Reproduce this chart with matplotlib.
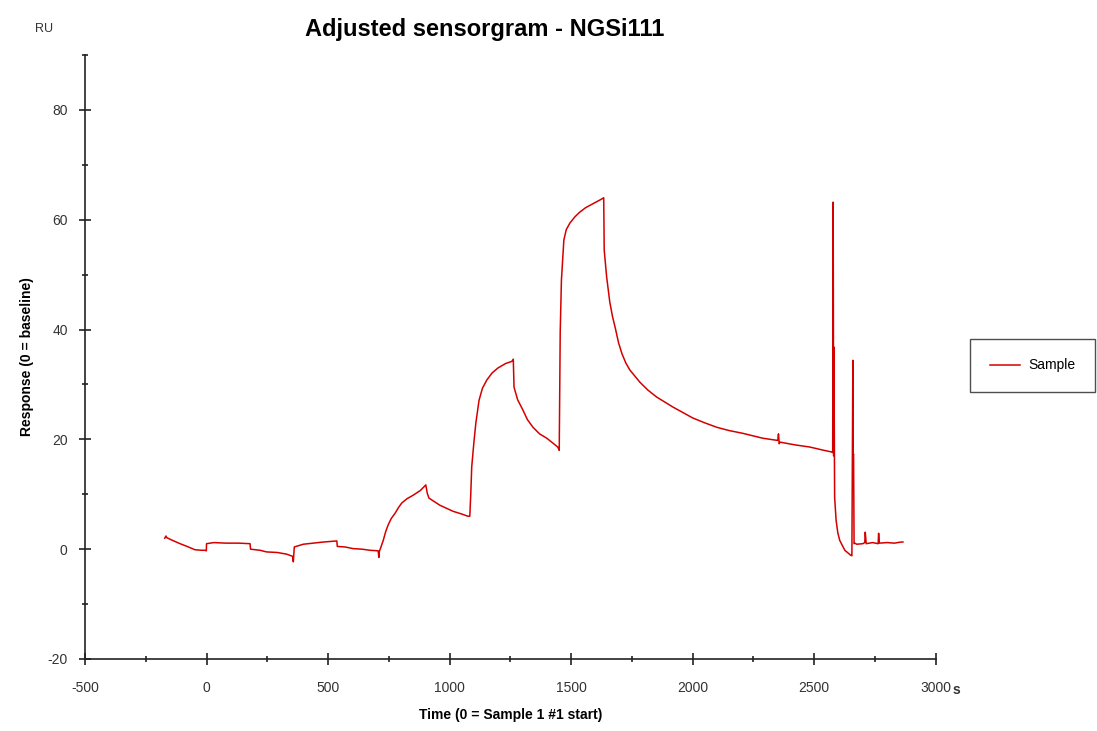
import numpy as np
import matplotlib
matplotlib.use('Agg')
import matplotlib.pyplot as plt
from matplotlib.ticker import MultipleLocator

plt.rcParams['font.family'] = ['Liberation Sans', 'DejaVu Sans']
plt.rcParams['axes.unicode_minus'] = False

# sensorgram trace (time in s, response in RU)
time_s = [
    -172, -167, -164, -140, -109, -80, -48, -20, -7, -1,
    0, 30, 80, 130, 176, 179,
    181, 220, 247, 290, 329, 354, 357, 359,
    361, 398, 440, 480, 532, 536,
    538, 570, 603, 640, 672, 706, 709, 711,
    716, 727, 737, 747, 760, 775, 790, 803, 825, 849, 880, 898, 902,
    908, 915, 960, 1014, 1050, 1075, 1083,
    1087, 1091, 1100, 1108, 1121, 1135, 1153, 1175, 1199, 1230, 1256, 1262,
    1265, 1280, 1302, 1320, 1343, 1370, 1400, 1445, 1451,
    1453, 1455, 1460, 1470, 1480, 1495, 1515, 1536, 1560, 1585, 1627, 1634,
    1636, 1646, 1659, 1670, 1682, 1695, 1709, 1725, 1742, 1783, 1815, 1852, 1918, 2000,
    2050, 2099, 2150, 2206, 2289, 2350, 2353, 2356, 2359, 2420, 2482, 2540, 2572, 2576,
    2577, 2578, 2579, 2580, 2581, 2584, 2590, 2597, 2605, 2626, 2650, 2655,
    2657, 2659, 2660, 2662, 2664, 2667, 2675, 2700, 2708, 2710, 2714,
    2740, 2763, 2765, 2768, 2800, 2830, 2857, 2865,
]
response = [
    2.0, 2.4, 2.1, 1.6, 1.0, 0.5, -0.1, -0.2, -0.2, -0.3,
    1.0, 1.2, 1.1, 1.1, 1.0, 1.0,
    0.0, -0.2, -0.5, -0.6, -0.9, -1.3, -2.3, -1.0,
    0.4, 0.9, 1.1, 1.3, 1.5, 1.5,
    0.5, 0.4, 0.1, 0.0, -0.2, -0.3, -1.5, -0.4,
    0.2, 1.6, 3.2, 4.4, 5.6, 6.5, 7.6, 8.4, 9.2, 9.8, 10.7, 11.5, 11.7,
    10.2, 9.3, 8.0, 6.9, 6.4, 6.0, 6.0,
    10.0, 15.0, 19.5, 23.0, 27.1, 29.3, 30.8, 32.1, 33.0, 33.8, 34.2, 34.6,
    29.5, 27.2, 25.3, 23.6, 22.2, 21.0, 20.2, 18.6, 18.0,
    30.0, 39.5, 49.0, 56.3, 58.2, 59.4, 60.5, 61.4, 62.2, 62.8, 63.8, 64.0,
    54.5, 49.6, 45.0, 42.4, 40.2, 37.6, 35.6, 33.9, 32.6, 30.4, 29.0, 27.7, 25.9, 23.9,
    23.0, 22.2, 21.6, 21.1, 20.2, 19.8, 21.0, 19.2, 19.5, 19.0, 18.6, 18.0, 17.7, 17.6,
    40.0, 63.2, 36.8, 17.0, 36.8, 9.5, 5.3, 3.0, 1.6, -0.2, -1.1, -1.2,
    17.3, 34.4, 17.0, 17.3, 1.0, 1.1, 0.9, 1.0, 1.2, 3.1, 1.0,
    1.2, 1.0, 2.9, 1.1, 1.2, 1.1, 1.3, 1.3,
]

fig = plt.figure(figsize=(10.97, 7.31), dpi=100)
ax = fig.add_axes([0.0775, 0.0985, 0.7755, 0.8263])

ax.plot(time_s, response, color='#d40000', linewidth=1.1, label='Sample')

ax.set_xlim(-500, 3000)
ax.set_ylim(-20, 90)
ax.xaxis.set_major_locator(MultipleLocator(500))
ax.xaxis.set_minor_locator(MultipleLocator(250))
ax.yaxis.set_major_locator(MultipleLocator(20))
ax.yaxis.set_minor_locator(MultipleLocator(10))
ax.set_yticks([-20, 0, 20, 40, 60, 80])

for side in ['top', 'right']:
    ax.spines[side].set_visible(False)
for side in ['left', 'bottom']:
    ax.spines[side].set_color('#222222')
    ax.spines[side].set_linewidth(1.2)

ax.tick_params(which='major', direction='inout', length=9, width=1.2,
               colors='#222222', labelsize=10, labelcolor='#333333')
ax.tick_params(which='minor', direction='inout', length=5, width=1.2, colors='#222222')
ax.tick_params(axis='x', which='major', pad=11)
ax.tick_params(axis='y', which='major', pad=8)

ax.set_xlabel('Time (0 = Sample 1 #1 start)', fontsize=10, fontweight='bold', labelpad=10)
ax.set_ylabel('Response (0 = baseline)', fontsize=10, fontweight='bold', labelpad=10)

fig.text(0.442, 0.960, 'Adjusted sensorgram - NGSi111', fontsize=17,
         fontweight='bold', ha='center', va='center')
fig.text(0.040, 0.961, 'RU', fontsize=9, color='#333333', ha='center', va='center')
fig.text(0.8715, 0.056, 's', fontsize=10, fontweight='bold', color='#333333',
         ha='center', va='center')

leg = fig.legend(loc='center', bbox_to_anchor=(0.9415, 0.5), fontsize=10,
                 frameon=True, fancybox=False, handlelength=2.2,
                 borderpad=1.4, handletextpad=0.6, borderaxespad=0.4)
leg.get_frame().set_edgecolor('#222222')
leg.get_frame().set_linewidth(1.0)

plt.savefig('out.png', dpi=100)
